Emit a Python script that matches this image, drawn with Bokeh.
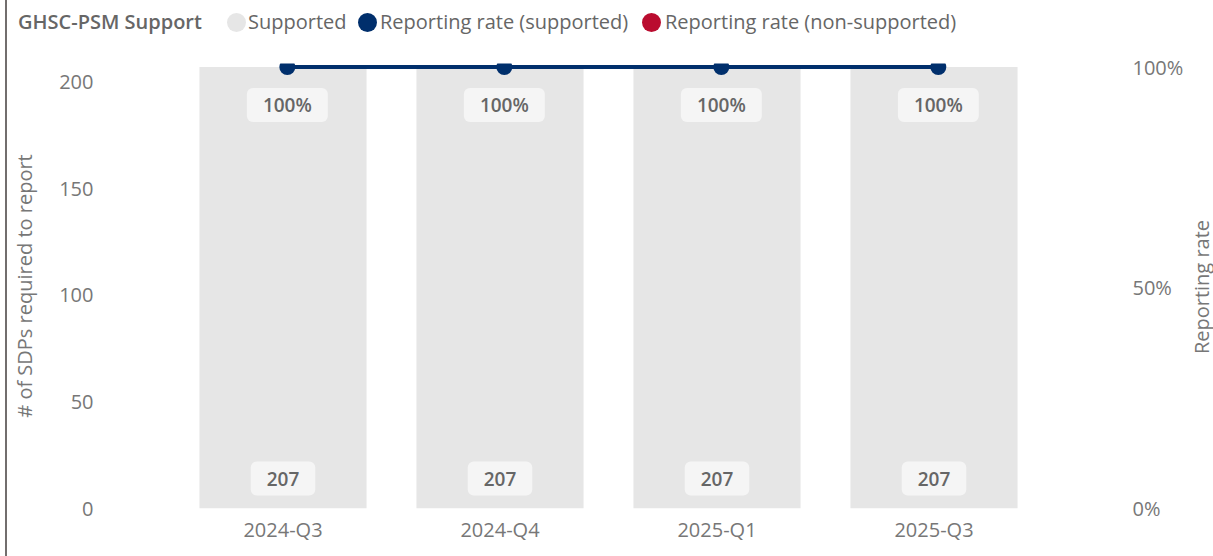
from bokeh.plotting import figure
from bokeh.layouts import column, row
from bokeh.models import (ColumnDataSource, Range1d, LinearAxis, FixedTicker,
                          NumeralTickFormatter, Div)
from bokeh.transform import dodge
from bokeh.core.properties import value
from bokeh.embed import file_html
from bokeh.resources import INLINE

# ---------------- data ----------------
quarters = ["2024-Q3", "2024-Q4", "2025-Q1", "2025-Q3"]
sdps_required = [207, 207, 207, 207]
rate_supported = [1.0, 1.0, 1.0, 1.0]
rate_labels = ["100%", "100%", "100%", "100%"]
count_labels = ["207", "207", "207", "207"]
left_ticks = [0, 50, 100, 150, 200]
right_ticks = [0, 0.5, 1.0]
legend_title = "GHSC-PSM Support"
legend_labels = ["Supported", "Reporting rate (supported)", "Reporting rate (non-supported)"]
left_axis_title = "# of SDPs required to report"
right_axis_title = "Reporting rate"

# ---------------- style ----------------
FONT = "Open Sans"
SEMI = "Open Sans SemiBold, Open Sans"
BAR = "#e6e6e6"
NAVY = "#002f6c"
RED = "#ba0c2f"
TICK = "#777777"
TXT = "#666666"
W = 1206
HEAD = 40
RW = 24          # width of the right-hand axis-title strip

# ---------------- legend header (HTML) ----------------
leg_colors = [BAR, NAVY, RED]
dot_left = [220, 351, 635]
text_left = [241, 373, 658]
parts = [f'<span style="position:absolute;left:11px;top:8px;line-height:28px;'
         f'font-weight:600;white-space:nowrap;">{legend_title}</span>']
for lab, col, dl, tl in zip(legend_labels, leg_colors, dot_left, text_left):
    parts.append(f'<span style="position:absolute;left:{dl}px;top:12.5px;width:19px;'
                 f'height:19px;border-radius:50%;background:{col};"></span>')
    parts.append(f'<span style="position:absolute;left:{tl}px;top:8px;line-height:28px;'
                 f'white-space:nowrap;">{lab}</span>')
header = Div(text=f'<div style="position:relative;width:{W}px;height:{HEAD}px;'
                  f'font-family:\'{FONT}\';font-size:20px;color:{TXT};">'
                  + "".join(parts) + '</div>',
             width=W, height=HEAD, margin=0)

# ---------------- main chart ----------------
src = ColumnDataSource(dict(q=quarters, n=sdps_required, r=rate_supported,
                            rl=rate_labels, nl=count_labels,
                            base=[0] * len(quarters)))

pad = 445 / 441.5
PH = 556 - HEAD
p = figure(x_range=quarters, y_range=Range1d(0, max(sdps_required) * pad),
           width=W - RW, height=PH, output_backend="svg", toolbar_location=None,
           min_border_left=167, min_border_right=147, min_border_top=63 - HEAD,
           min_border_bottom=48)
p.extra_y_ranges = {"rate": Range1d(0, 1.0 * pad)}

p.outline_line_color = None
p.xgrid.grid_line_color = None
p.ygrid.grid_line_color = None

p.vbar(x="q", top="n", width=0.77, source=src, fill_color=BAR, line_color=None)

xd = dodge("q", 0.02, range=p.x_range)
p.line(x=xd, y="r", y_range_name="rate", source=src, line_color=NAVY, line_width=4)
p.scatter(x=xd, y="r", y_range_name="rate", source=src, size=16,
          fill_color=NAVY, line_color=None)

box = dict(text_align="center", text_baseline="middle",
           text_font=value(SEMI), text_font_size="19px", text_font_style="normal",
           text_color="#666666", background_fill_color="#f5f5f5",
           border_radius=6)
p.text(x=xd, y="r", text="rl", y_range_name="rate", source=src, y_offset=38,
       padding=(16, 4), **box)
p.text(x="q", y="base", text="nl", source=src, y_offset=-30,
       padding=(16, 10), **box)

# axes
for ax in [p.xaxis[0], p.yaxis[0]]:
    ax.axis_line_color = None
    ax.major_tick_line_color = None
    ax.minor_tick_line_color = None
    ax.major_tick_out = 0
    ax.major_tick_in = 0
    ax.major_label_text_font = FONT
    ax.major_label_text_font_size = "20px"
    ax.major_label_text_color = TICK

p.xaxis.major_label_standoff = 7
p.yaxis.ticker = FixedTicker(ticks=left_ticks)
p.yaxis.major_label_standoff = 81
p.yaxis.axis_label = left_axis_title
p.yaxis.axis_label_text_font = FONT
p.yaxis.axis_label_text_font_size = "20px"
p.yaxis.axis_label_text_font_style = "normal"
p.yaxis.axis_label_text_color = TICK
p.yaxis.axis_label_standoff = 18

ra = LinearAxis(y_range_name="rate", ticker=FixedTicker(ticks=right_ticks),
                formatter=NumeralTickFormatter(format="0%"))
ra.axis_line_color = None
ra.major_tick_line_color = None
ra.minor_tick_line_color = None
ra.major_tick_out = 0
ra.major_tick_in = 0
ra.major_label_text_font = FONT
ra.major_label_text_font_size = "20px"
ra.major_label_text_color = TICK
ra.major_label_standoff = 90
p.add_layout(ra, "right")

# right axis title, reading bottom-to-top
mid = (63 + 508) / 2 - HEAD
rdiv = Div(text=f'<div style="position:relative;width:{RW}px;height:{PH}px;">'
                f'<span style="position:absolute;left:{RW / 2 + 1}px;top:{mid + 1.5}px;'
                f'writing-mode:vertical-rl;transform:translate(-50%,-50%) rotate(180deg);'
                f'white-space:nowrap;font-family:\'{FONT}\';font-size:20px;'
                f'line-height:20px;color:{TICK};">{right_axis_title}</span></div>',
           width=RW, height=PH, margin=0)

page = column(header, row(p, rdiv, spacing=0), spacing=0,
              styles={"margin-left": "5px", "border-left": "2px solid #726e6d"})

open("out.html", "w").write(file_html(page, INLINE))
